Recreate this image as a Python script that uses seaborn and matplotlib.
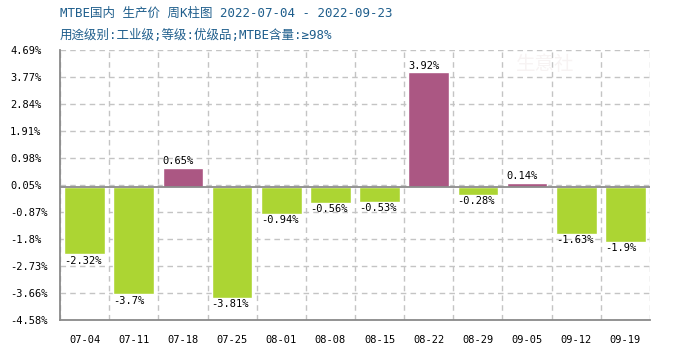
import numpy as np
import pandas as pd
import matplotlib
matplotlib.use("Agg")
import matplotlib.pyplot as plt
import seaborn as sns

weeks = ["07-04", "07-11", "07-18", "07-25", "08-01", "08-08",
         "08-15", "08-22", "08-29", "09-05", "09-12", "09-19"]
changes = [-2.32, -3.7, 0.65, -3.81, -0.94, -0.56,
           -0.53, 3.92, -0.28, 0.14, -1.63, -1.9]
value_labels = ["-2.32%", "-3.7%", "0.65%", "-3.81%", "-0.94%", "-0.56%",
                "-0.53%", "3.92%", "-0.28%", "0.14%", "-1.63%", "-1.9%"]
ytick_values = [-4.58, -3.66, -2.73, -1.8, -0.87, 0.05, 0.98, 1.91, 2.84, 3.77, 4.69]
ytick_labels = ["-4.58%", "-3.66%", "-2.73%", "-1.8%", "-0.87%", "0.05%",
                "0.98%", "1.91%", "2.84%", "3.77%", "4.69%"]
title = "MTBE国内 生产价 周K柱图 2022-07-04 - 2022-09-23"
subtitle = "用途级别:工业级;等级:优级品;MTBE含量:≥98%"

sns.set_theme(style="white")
plt.rcParams["font.family"] = ["DejaVu Sans Mono", "Noto Sans CJK SC"]

df = pd.DataFrame({"week": weeks, "change": changes})
df["dir"] = np.where(df["change"] >= 0, "up", "down")

fig = plt.figure(figsize=(7, 3.5), dpi=100)
ax = fig.add_axes([60 / 700, 30 / 350, 590 / 700, 270 / 350])

sns.barplot(data=df, x="week", y="change", hue="dir",
            palette={"up": "#ab5783", "down": "#acd533"},
            dodge=False, width=0.83, legend=False, ax=ax, saturation=1)

ax.set_xlim(-0.5, len(weeks) - 0.5)
ax.set_ylim(ytick_values[0], ytick_values[-1])
ax.set_yticks(ytick_values)
ax.set_yticklabels(ytick_labels)
ax.set_xticks(range(len(weeks)))
ax.set_xticks(np.arange(-0.5, len(weeks), 1.0), minor=True)
ax.set_xlabel("")
ax.set_ylabel("")

ax.grid(axis="y", which="major", linestyle=(0, (4, 3)), color="#c4c4c4", lw=1)
ax.grid(axis="x", which="minor", linestyle=(0, (4, 3)), color="#c4c4c4", lw=1)
ax.grid(axis="x", which="major", visible=False)
ax.set_axisbelow(True)

for s in ["top", "right"]:
    ax.spines[s].set_visible(False)
for s in ["left", "bottom"]:
    ax.spines[s].set_color("#8a8a8a")
    ax.spines[s].set_linewidth(1.3)
ax.axhline(0, color="#8a8a8a", lw=1.3, zorder=3)

ax.tick_params(axis="both", which="both", length=0, labelsize=7.5, colors="black")
ax.tick_params(axis="y", pad=36)
ax.tick_params(axis="x", pad=11)
for lab in ax.get_yticklabels():
    lab.set_horizontalalignment("left")

for i, (v, t) in enumerate(zip(changes, value_labels)):
    x0 = i - 0.83 / 2
    if v >= 0:
        ax.annotate(t, (x0, v), xytext=(0, 1), textcoords="offset points",
                    ha="left", va="bottom", fontsize=7.5, color="black")
    else:
        ax.annotate(t, (x0, v), xytext=(0, -1), textcoords="offset points",
                    ha="left", va="top", fontsize=7.5, color="black")

# faint watermark
fig.text(545 / 700, 1 - 65 / 350, "生意社", fontsize=14, color="#f7f3f3",
         family=["Noto Sans CJK SC"], ha="center", va="center", zorder=0)

fig.text(60 / 700, 1 - 13 / 350, title, fontsize=9, color="#1f5e8c",
         ha="left", va="center")
fig.text(60 / 700, 1 - 35 / 350, subtitle, fontsize=9, color="#1f5e8c",
         ha="left", va="center")

fig.savefig("out.png", dpi=100)
